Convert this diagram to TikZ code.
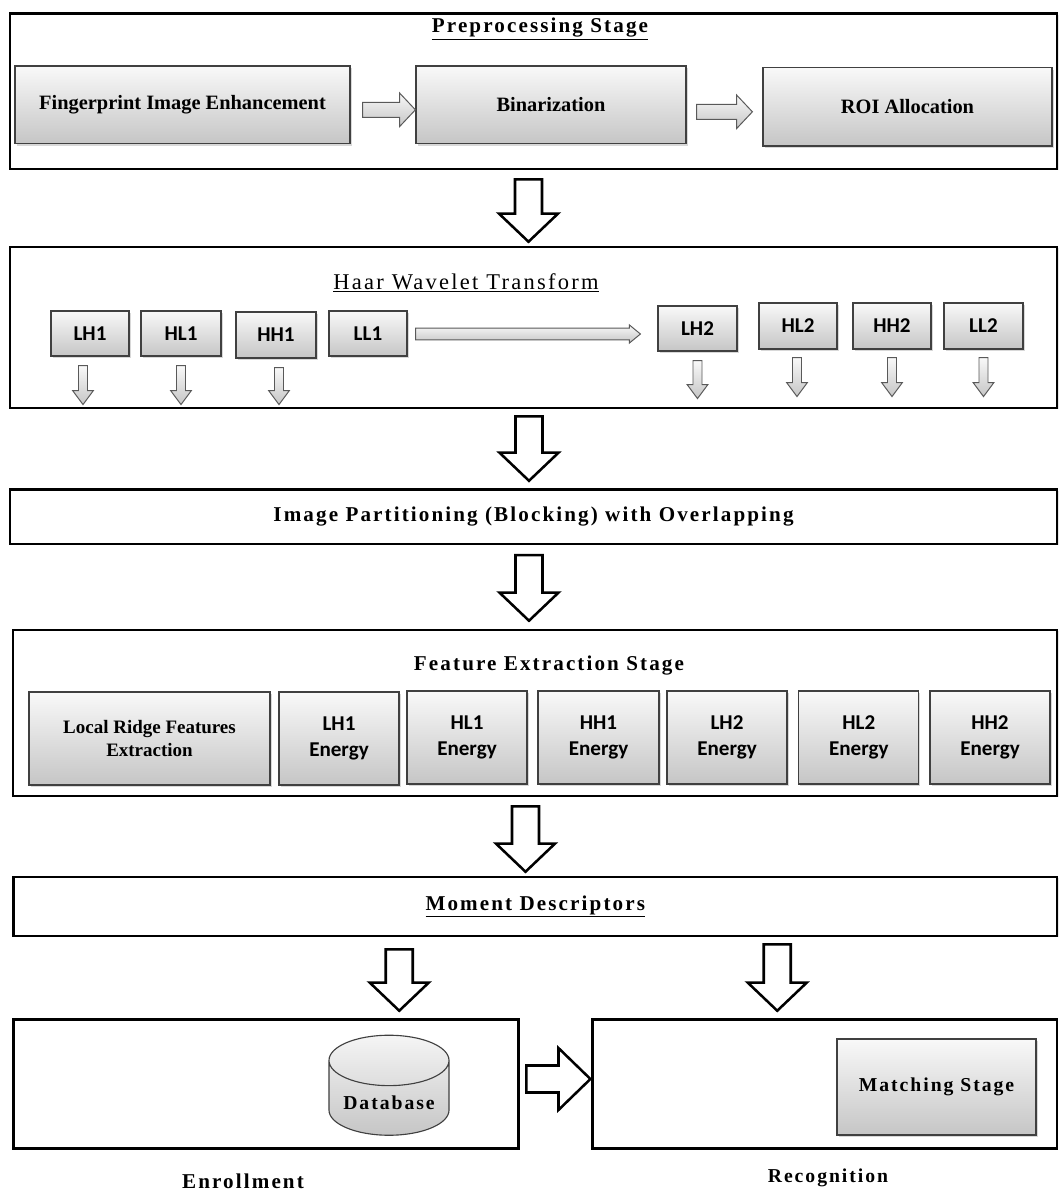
\documentclass[tikz,border=0pt]{standalone}
\usepackage{fontspec}
\setmainfont{Liberation Serif}
\newfontfamily\widefont{Liberation Serif}[LetterSpace=10]
\newfontfamily\calfont{Carlito}
\usetikzlibrary{calc,shapes.geometric,shadows}

\tikzset{
  stage/.style={draw,line width=1.8pt,fill=white,inner sep=0pt,drop shadow={opacity=.2,shadow xshift=1pt,shadow yshift=-1pt}},
  gbox/.style={draw=black!75,line width=.8pt,top color=gray!5,bottom color=gray!45,align=center,inner sep=0pt,drop shadow={opacity=.3,shadow xshift=1.2pt,shadow yshift=-1.5pt}},
  serifbox/.style={gbox,font=\fontsize{14.5}{17}\selectfont\bfseries},
  sansbox/.style={gbox,font=\calfont\bfseries\fontsize{15}{19}\selectfont},
  titletext/.style={font=\widefont\bfseries\fontsize{15}{18}\selectfont},
  bigarr/.style={draw,line width=1.8pt,fill=white,line join=miter},
  smallarr/.style={draw=black!65,line width=.7pt,top color=gray!5,bottom color=gray!45}
}

% hollow block arrows: [style]{from}{to}{shaft half}{head half}{head length}
\newcommand\downblock[6][]{%
  \draw[#1] let \p1=#2, \p2=#3 in
    ({\x1-#4},\y1) -- ({\x1-#4},{\y2+#6}) -- ({\x1-#5},{\y2+#6}) -- (\x1,\y2)
    -- ({\x1+#5},{\y2+#6}) -- ({\x1+#4},{\y2+#6}) -- ({\x1+#4},\y1) -- cycle;}
\newcommand\rightblock[6][]{%
  \draw[#1] let \p1=#2, \p2=#3 in
    (\x1,{\y1-#4}) -- ({\x2-#6},{\y1-#4}) -- ({\x2-#6},{\y1-#5}) -- (\x2,\y1)
    -- ({\x2-#6},{\y1+#5}) -- ({\x2-#6},{\y1+#4}) -- (\x1,{\y1+#4}) -- cycle;}

\begin{document}
\begin{tikzpicture}[x=0.025cm,y=-0.025cm]
        \useasboundingbox(0,0)rectangle(1060,1193);
        \node(pre)at(533.5,91.25)[stage,minimum width=26.175cm,minimum height=3.89cm]{};
        \node(pretitle)at(540,29)[titletext]{\underline{Preprocessing Stage}};
        \node(fie)at(182.5,104.8)[serifbox,minimum width=8.375cm,minimum height=1.94cm]{Fingerprint Image Enhancement};
        \node(bin)at(551,104.8)[serifbox,minimum width=6.75cm,minimum height=1.94cm]{Binarization};
        \node(roi)at(907.5,106.75)[serifbox,minimum width=7.225cm,minimum height=1.96cm]{ROI Allocation};
        \node(haar)at(533.5,327.5)[stage,minimum width=26.175cm,minimum height=4.025cm]{};
        \node(haartitle)at(466,283)[font=\widefont\fontsize{16}{19}\selectfont]{\underline{Haar Wavelet Transform}};
        \node(lh1)at(90,333.5)[sansbox,minimum width=1.95cm,minimum height=1.125cm]{LH1};
        \node(hl1)at(181,333.5)[sansbox,minimum width=2cm,minimum height=1.125cm]{HL1};
        \node(hh1)at(276,335)[sansbox,minimum width=2cm,minimum height=1.15cm]{HH1};
        \node(ll1)at(368,333.5)[sansbox,minimum width=1.95cm,minimum height=1.125cm]{LL1};
        \node(lh2)at(697.5,328.5)[sansbox,minimum width=1.975cm,minimum height=1.125cm]{LH2};
        \node(hl2)at(798,326)[sansbox,minimum width=1.95cm,minimum height=1.15cm]{HL2};
        \node(hh2)at(892,326)[sansbox,minimum width=1.95cm,minimum height=1.15cm]{HH2};
        \node(ll2)at(983.5,326)[sansbox,minimum width=1.975cm,minimum height=1.15cm]{LL2};
        \node(part)at(533.5,516.75)[stage,titletext,minimum width=26.175cm,minimum height=1.36cm]{Image Partitioning (Blocking) with Overlapping};
        \node(feat)at(535,713)[stage,minimum width=26.1cm,minimum height=4.15cm]{};
        \node(feattitle)at(549,665)[titletext]{Feature Extraction Stage};
        \node(lrfe)at(149.5,738.5)[serifbox,font=\fontsize{13.5}{17}\selectfont\bfseries,minimum width=6.025cm,minimum height=2.325cm]{Local Ridge Features\\Extraction};
        \node(e1)at(339,738.5)[sansbox,minimum width=3cm,minimum height=2.325cm]{LH1\\Energy};
        \node(e2)at(467,737.5)[sansbox,minimum width=3cm,minimum height=2.325cm]{HL1\\Energy};
        \node(e3)at(598.5,737.5)[sansbox,minimum width=3.025cm,minimum height=2.325cm]{HH1\\Energy};
        \node(e4)at(727,737.5)[sansbox,minimum width=3cm,minimum height=2.325cm]{LH2\\Energy};
        \node(e5)at(858.75,737.5)[sansbox,minimum width=3cm,minimum height=2.325cm]{HL2\\Energy};
        \node(e6)at(990,737.5)[sansbox,minimum width=3cm,minimum height=2.325cm]{HH2\\Energy};
        \node(mom)at(535.25,906.5)[stage,titletext,minimum width=26.09cm,minimum height=1.475cm]{\underline{Moment Descriptors}};
        \node(enr)at(266,1084)[stage,minimum width=12.625cm,minimum height=3.225cm]{};
        \node(rec)at(824.75,1084)[stage,minimum width=11.6cm,minimum height=3.225cm]{};
        \node(db)at(389,1103)[cylinder,shape border rotate=90,aspect=0.5,draw=black!75,line width=.8pt,top color=gray!8,bottom color=gray!45,minimum width=3cm,minimum height=2.5cm,font=\widefont\bfseries\fontsize{14}{17}\selectfont]{Database};
        \node(match)at(936.5,1087)[gbox,font=\widefont\bfseries\fontsize{14}{17}\selectfont,minimum width=4.975cm,minimum height=2.4cm]{Matching Stage};
        \node(enrlabel)at(243,1181)[font=\widefont\bfseries\fontsize{15}{18}\selectfont]{Enrollment};
        \node(reclabel)at(828,1178)[font=\widefont\bfseries\fontsize{14}{17}\selectfont]{Recognition};
        \rightblock[smallarr]{($(fie.east)+(12,5)$)}{($(bin.west)+(0,5)$)}{5.3pt}{12pt}{11.3pt}
        \rightblock[smallarr]{($(bin.east)+(10,7)$)}{($(roi.west)+(-10,7)$)}{5.3pt}{12pt}{11.3pt}
        \rightblock[smallarr]{($(ll1.east)+(8,0.5)$)}{($(lh2.west)+(-17,0)$)}{4.2pt}{6.4pt}{7.8pt}
        \downblock[smallarr]{($(lh1.south)+(-7,9)$)}{($(lh1.south)+(0,48)$)}{3.2pt}{7.4pt}{10pt}
        \downblock[smallarr]{($(hl1.south)+(0,9)$)}{($(hl1.south)+(0,48)$)}{3.2pt}{7.4pt}{10pt}
        \downblock[smallarr]{($(hh1.south)+(3,9)$)}{($(hh1.south)+(0,46)$)}{3.2pt}{7.4pt}{10pt}
        \downblock[smallarr]{($(lh2.south)+(0,9)$)}{($(lh2.south)+(0,47)$)}{3.2pt}{7.4pt}{10pt}
        \downblock[smallarr]{($(hl2.south)+(-1,8)$)}{($(hl2.south)+(0,47)$)}{3.2pt}{7.4pt}{10pt}
        \downblock[smallarr]{($(hh2.south)+(0,8)$)}{($(hh2.south)+(0,47)$)}{3.2pt}{7.4pt}{10pt}
        \downblock[smallarr]{($(ll2.south)+(0,8)$)}{($(ll2.south)+(0,47)$)}{3.2pt}{7.4pt}{10pt}
        \downblock[bigarr]{($(pre.south)+(-5,9)$)}{($(haar.north)+(0,-4)$)}{9.6pt}{21pt}{20pt}
        \downblock[bigarr]{($(haar.south)+(-4.5,7)$)}{($(part.north)+(0,-7.5)$)}{9.6pt}{21pt}{20pt}
        \downblock[bigarr]{($(part.south)+(-4.5,10)$)}{($(feat.north)+(0,-8)$)}{9.6pt}{21pt}{20pt}
        \downblock[bigarr]{($(feat.south)+(-9.5,9)$)}{($(mom.north)+(0,-4)$)}{9.6pt}{21pt}{20pt}
        \downblock[bigarr]{($(mom.south)+(-136,12)$)}{($(enr.north)+(0,-7.5)$)}{9.6pt}{21pt}{20pt}
        \downblock[bigarr]{($(mom.south)+(242,7)$)}{($(rec.north)+(0,-7.5)$)}{9.6pt}{21pt}{20pt}
        \rightblock[bigarr]{($(enr.east)+(6.5,-5)$)}{($(rec.west)+(-1,0)$)}{9.6pt}{22pt}{22.7pt}
    \end{tikzpicture}
\end{document}
